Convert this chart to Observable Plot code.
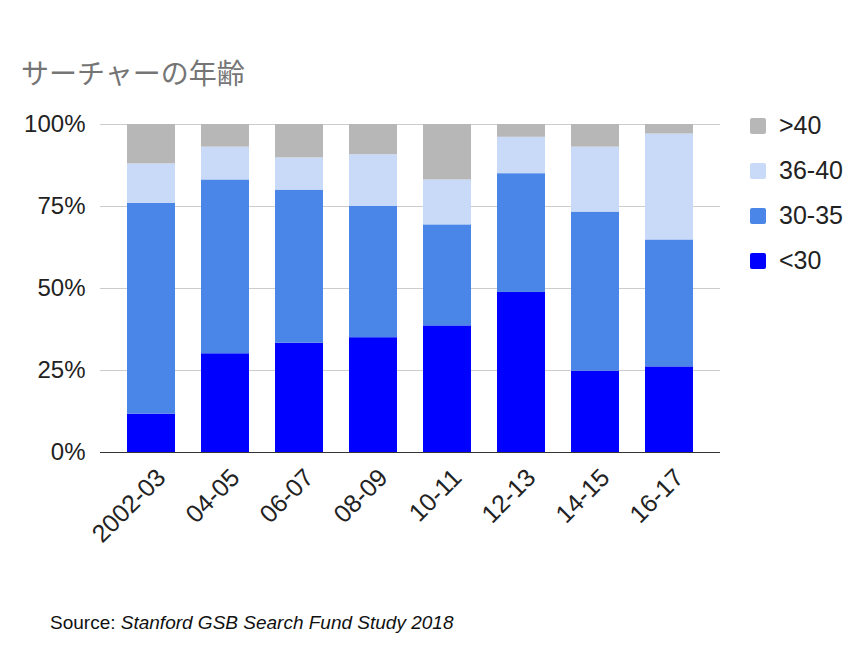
<!DOCTYPE html>
<html>
<head>
<meta charset="utf-8">
<script src="https://cdn.jsdelivr.net/npm/d3@7"></script>
<script src="https://cdn.jsdelivr.net/npm/@observablehq/plot@0.6"></script>
<style>
  body { margin: 0; background: #fff; }
  #wrap { position: relative; width: 862px; height: 661px; font-family: "Liberation Sans", Arial, sans-serif; color: #222; }
  #title { position: absolute; left: 21px; top: 56px; font-family: "Noto Sans CJK JP", sans-serif; font-size: 28px; color: #757575; line-height: 1.2; }
  #chart { position: absolute; left: 0; top: 100px; }
  #legend { position: absolute; left: 750px; top: 103px; }
  .item { display: flex; align-items: center; height: 45px; font-size: 25px; }
  .sw { width: 16px; height: 16px; border-radius: 2px; margin-right: 13px; }
  #caption { position: absolute; left: 50px; top: 612px; font-size: 19px; color: #111; }
</style>
</head>
<body>
<div id="wrap">
  <div id="title">サーチャーの年齢</div>
  <div id="chart"></div>
  <div id="legend"></div>
  <div id="caption">Source: <i>Stanford GSB Search Fund Study 2018</i></div>
</div>
<script>
const periods = ["2002-03", "04-05", "06-07", "08-09", "10-11", "12-13", "14-15", "16-17"];
const groups = ["<30", "30-35", "36-40", ">40"];
const colors = ["#0000ff", "#4a86e8", "#c9daf8", "#b7b7b7"];
const under30 = [11.7, 30.1, 33.3, 35.0, 38.6, 48.8, 24.8, 26.1];
const age30to35 = [64.3, 53.0, 46.7, 40.1, 30.8, 36.2, 48.5, 38.7];
const age36to40 = [12.0, 10.0, 9.8, 15.7, 13.7, 11.1, 19.8, 32.3];
const over40 = [12.0, 6.9, 10.2, 9.2, 16.9, 3.9, 6.9, 2.9];
const yTicks = [0, 25, 50, 75, 100];

const seriesValues = [under30, age30to35, age36to40, over40];
const data = [];
groups.forEach((g, gi) => periods.forEach((p, pi) => data.push({period: p, group: g, value: seriesValues[gi][pi]})));

const chart = Plot.plot({
  width: 862,
  height: 500,
  marginTop: 24,
  marginLeft: 100,
  marginRight: 142,
  marginBottom: 148,
  style: {fontFamily: "Liberation Sans, Arial, sans-serif", color: "#222", background: "#fff", overflow: "visible"},
  x: {domain: periods, padding: 0.35, label: null},
  y: {domain: [0, 100], label: null},
  color: {domain: groups, range: colors},
  marks: [
    Plot.gridY(yTicks, {stroke: "#cccccc", strokeOpacity: 1, strokeWidth: 1}),
    Plot.barY(data, {x: "period", y: "value", fill: "group", order: groups}),
    Plot.ruleY([0], {stroke: "#333", strokeWidth: 1}),
    Plot.axisY(yTicks, {tickFormat: d => d + "%", tickSize: 0, tickPadding: 15, fontSize: 24, label: null}),
    Plot.axisX({tickRotate: -45, tickSize: 0, tickPadding: 14, fontSize: 25, dx: 10, dy: 7, label: null})
  ]
});
document.getElementById("chart").appendChild(chart);

const legend = document.getElementById("legend");
[...groups].reverse().forEach(g => {
  const i = groups.indexOf(g);
  const item = document.createElement("div");
  item.className = "item";
  const sw = document.createElement("span");
  sw.className = "sw";
  sw.style.background = colors[i];
  const t = document.createElement("span");
  t.textContent = g;
  item.appendChild(sw);
  item.appendChild(t);
  legend.appendChild(item);
});
</script>
</body>
</html>
